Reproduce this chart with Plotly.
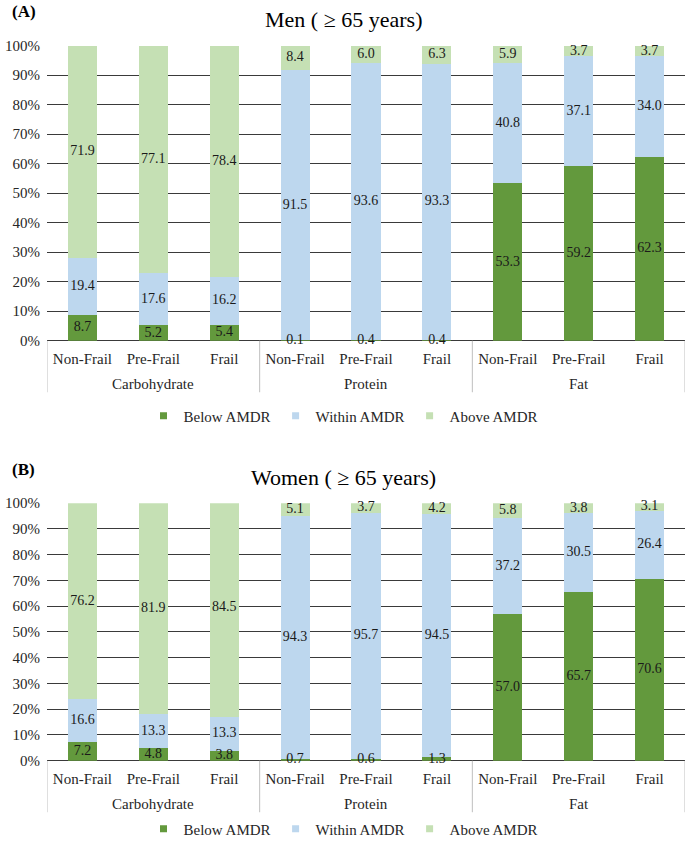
import plotly.graph_objects as go

nutrients = ["Carbohydrate", "Protein", "Fat"]
frailty = ["Non-Frail", "Pre-Frail", "Frail"]
series_names = ["Below AMDR", "Within AMDR", "Above AMDR"]
colors = ["#63993D", "#BDD7EE", "#C5E0B4"]

men_below = [8.7, 5.2, 5.4, 0.1, 0.4, 0.4, 53.3, 59.2, 62.3]
men_within = [19.4, 17.6, 16.2, 91.5, 93.6, 93.3, 40.8, 37.1, 34.0]
men_above = [71.9, 77.1, 78.4, 8.4, 6.0, 6.3, 5.9, 3.7, 3.7]

women_below = [7.2, 4.8, 3.8, 0.7, 0.6, 1.3, 57.0, 65.7, 70.6]
women_within = [16.6, 13.3, 13.3, 94.3, 95.7, 94.5, 37.2, 30.5, 26.4]
women_above = [76.2, 81.9, 84.5, 5.1, 3.7, 4.2, 5.8, 3.8, 3.1]

panel_letters = ["(A)", "(B)"]
panel_titles = ["Men ( \u2265 65 years)", "Women ( \u2265 65 years)"]
y_ticks = list(range(0, 101, 10))
y_ticktext = [f"{v}%" for v in y_ticks]

W, H = 687, 846
FONT = "Liberation Serif"
TXT = "#262626"

sub = [f for _ in nutrients for f in frailty]
xidx = list(range(len(sub)))

def px_y(p):
    return 1 - p / H

def px_x(p):
    return p / W

fig = go.Figure()

panels = [
    (men_below, men_within, men_above, "x", "y", "legend", 344),
    (women_below, women_within, women_above, "x2", "y2", "legend2", 768),
]

for pi, (b, w, a, xa, ya, lg, ybase) in enumerate(panels):
    vals = [b, w, a]
    for si, (name, col, v) in enumerate(zip(series_names, colors, vals)):
        fig.add_trace(go.Bar(
            x=xidx, y=v, name=name, marker=dict(color=col, line=dict(width=0)),
            xaxis=xa, yaxis=ya, showlegend=False,
        ))
        # legend-only entry with a small square swatch
        fig.add_trace(go.Scatter(
            x=[None], y=[None], mode="markers", name=name,
            marker=dict(symbol="square", size=7, color=col),
            xaxis=xa, yaxis=ya, legend=lg, showlegend=True,
        ))
    # label positions: centre of each stacked segment
    lab_x, lab_y, lab_t = [], [], []
    for i in xidx:
        base = 0.0
        for v in vals:
            lab_x.append(i)
            lab_y.append(base + v[i] / 2)
            lab_t.append(f"{v[i]:.1f}")
            base += v[i]
    fig.add_trace(go.Scatter(
        x=lab_x, y=lab_y, text=lab_t, mode="text",
        textfont=dict(family=FONT, size=14, color="#1a1a1a"),
        xaxis=xa, yaxis=ya, showlegend=False, hoverinfo="skip", cliponaxis=False,
    ))

    # group labels and dividers of the two-level category axis
    start = 0
    xr = xa
    for g in nutrients:
        n = len(frailty)
        fig.add_annotation(text=g, x=start + (n - 1) / 2, xref=xr, y=px_y(ybase + 44), yref="paper",
                           xanchor="center", yanchor="middle", showarrow=False,
                           font=dict(family=FONT, size=15, color=TXT))
        fig.add_shape(type="line", xref=xr, yref="paper", x0=start - 0.5, x1=start - 0.5,
                      y0=px_y(ybase), y1=px_y(ybase + 52), line=dict(color="#BFBFBF", width=1))
        start += n
    fig.add_shape(type="line", xref=xr, yref="paper", x0=start - 0.5, x1=start - 0.5,
                  y0=px_y(ybase), y1=px_y(ybase + 52), line=dict(color="#BFBFBF", width=1))

x_dom = [px_x(47), px_x(685)]
domA = [px_y(344), px_y(46)]
domB = [px_y(768), px_y(508)]

xcommon = dict(
    range=[-0.5, len(sub) - 0.5], tickvals=xidx, ticktext=sub,
    tickfont=dict(family=FONT, size=15, color=TXT),
    showline=False, showgrid=False, zeroline=False,
    ticks="", ticklabelstandoff=7, automargin=False, fixedrange=True,
)
ycommon = dict(
    range=[0, 100], tickvals=y_ticks, ticktext=y_ticktext,
    tickfont=dict(family=FONT, size=15, color=TXT),
    showgrid=True, gridcolor="#3a3a3a", gridwidth=1.2,
    zeroline=True, zerolinecolor="#3a3a3a", zerolinewidth=1.2,
    showline=False, ticks="", ticklabelstandoff=6, automargin=False,
)

legend_common = dict(orientation="h", x=0.5, xanchor="center", yanchor="middle",
                     font=dict(family=FONT, size=15, color=TXT), traceorder="normal",
                     itemwidth=30, bgcolor="rgba(0,0,0,0)")

fig.update_layout(
    width=W, height=H, margin=dict(l=0, r=0, t=0, b=0),
    paper_bgcolor="white", plot_bgcolor="white",
    barmode="stack", bargap=0.59,
    font=dict(family=FONT, color=TXT),
    xaxis=dict(domain=x_dom, anchor="y", **xcommon),
    yaxis=dict(domain=domA, anchor="x", **ycommon),
    xaxis2=dict(domain=x_dom, anchor="y2", **xcommon),
    yaxis2=dict(domain=domB, anchor="x2", **ycommon),
    legend=dict(y=px_y(420), **legend_common),
    legend2=dict(y=px_y(837), **legend_common),
    showlegend=True,
)

for letter, title, ytop in zip(panel_letters, panel_titles, [16, 478]):
    fig.add_annotation(text=f"<b>{letter}</b>", x=px_x(10), y=px_y(ytop - 4), xref="paper", yref="paper",
                       xanchor="left", yanchor="middle", showarrow=False,
                       font=dict(family=FONT, size=17, color="#000000"))
    fig.add_annotation(text=title, x=px_x(343), y=px_y(ytop + 4), xref="paper", yref="paper",
                       xanchor="center", yanchor="middle", showarrow=False,
                       font=dict(family=FONT, size=22, color="#000000"))

fig.write_html("out.html")
